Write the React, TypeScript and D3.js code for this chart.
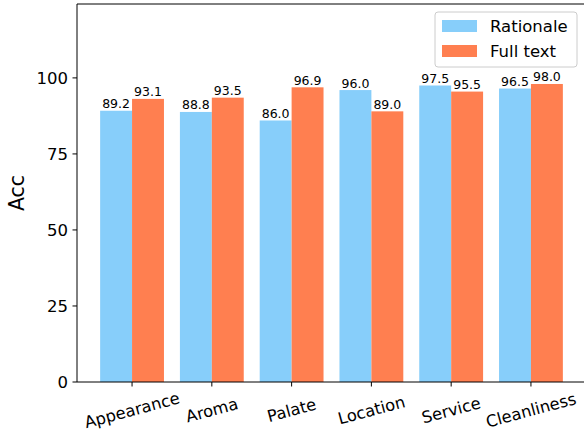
import { useRef, useEffect } from "react";
import * as d3 from "d3";

const categories = ["Appearance", "Aroma", "Palate", "Location", "Service", "Cleanliness"];
const rationale = [89.2, 88.8, 86.0, 96.0, 97.5, 96.5];
const fullText = [93.1, 93.5, 96.9, 89.0, 95.5, 98.0];
const seriesNames = ["Rationale", "Full text"];
const colors = ["#87CEFA", "#FF7F50"];
const yTicks = [0, 25, 50, 75, 100];

export default function App() {
  const svgRef = useRef<SVGSVGElement>(null);

  useEffect(() => {
    if (!svgRef.current) return;
    const width = 584;
    const height = 431;
    const margin = { top: 4, left: 77, bottom: 49 };

    const svg = d3.select(svgRef.current);
    svg.selectAll("*").remove();

    const font = "DejaVu Sans, sans-serif";

    // x in category units, matplotlib-like margins
    const x = d3.scaleLinear().domain([-0.69, 5.69]).range([margin.left, 586]);
    const y = d3.scaleLinear().domain([0, 124.3]).range([height - margin.bottom, margin.top]);
    const barW = x(0.4) - x(0);

    const g = svg.append("g");

    const series = [rationale, fullText];
    series.forEach((vals, si) => {
      const off = si === 0 ? -0.2 : 0.2;
      g.selectAll(`.bar${si}`)
        .data(vals)
        .join("rect")
        .attr("x", (_, i) => x(i + off) - barW / 2)
        .attr("y", (d) => y(d))
        .attr("width", barW)
        .attr("height", (d) => y(0) - y(d))
        .attr("fill", colors[si]);

      g.selectAll(`.lbl${si}`)
        .data(vals)
        .join("text")
        .attr("x", (_, i) => x(i + off))
        .attr("y", (d) => y(d) - 2.5)
        .attr("text-anchor", "middle")
        .attr("font-family", font)
        .attr("font-size", 12.5)
        .attr("fill", "#000")
        .text((d) => d.toFixed(1));
    });

    // spines
    const frame = svg.append("g").attr("stroke", "#000").attr("stroke-width", 1);
    frame.append("line").attr("x1", margin.left).attr("x2", margin.left).attr("y1", y(124.3)).attr("y2", y(0));
    frame.append("line").attr("x1", margin.left).attr("x2", 590).attr("y1", y(0)).attr("y2", y(0));
    frame.append("line").attr("x1", margin.left).attr("x2", 590).attr("y1", y(124.3)).attr("y2", y(124.3));

    // y axis ticks
    const yt = svg.append("g");
    yTicks.forEach((t) => {
      yt.append("line")
        .attr("x1", margin.left - 4.5)
        .attr("x2", margin.left)
        .attr("y1", y(t))
        .attr("y2", y(t))
        .attr("stroke", "#000");
      yt.append("text")
        .attr("x", margin.left - 9)
        .attr("y", y(t))
        .attr("dy", "0.36em")
        .attr("text-anchor", "end")
        .attr("font-family", font)
        .attr("font-size", 16.5)
        .text(t);
    });

    // x axis ticks
    const xt = svg.append("g");
    categories.forEach((c, i) => {
      xt.append("line")
        .attr("x1", x(i))
        .attr("x2", x(i))
        .attr("y1", y(0))
        .attr("y2", y(0) + 4.5)
        .attr("stroke", "#000");
      xt.append("text")
        .attr("transform", `translate(${x(i)},${y(0) + 28}) rotate(-15)`)
        .attr("text-anchor", "middle")
        .attr("dy", "0.36em")
        .attr("font-family", font)
        .attr("font-size", 16.3)
        .text(c);
    });

    // y label
    svg.append("text")
      .attr("transform", `translate(24,${(y(0) + y(124.3)) / 2}) rotate(-90)`)
      .attr("text-anchor", "middle")
      .attr("font-family", font)
      .attr("font-size", 20.5)
      .text("Acc");

    // legend
    const lg = svg.append("g").attr("transform", "translate(435,12)");
    lg.append("rect")
      .attr("width", 142)
      .attr("height", 55)
      .attr("rx", 3)
      .attr("fill", "#fff")
      .attr("fill-opacity", 0.8)
      .attr("stroke", "#ccc");
    seriesNames.forEach((n, i) => {
      lg.append("rect")
        .attr("x", 7)
        .attr("y", 8 + i * 25)
        .attr("width", 35)
        .attr("height", 12)
        .attr("fill", colors[i]);
      lg.append("text")
        .attr("x", 55)
        .attr("y", 14 + i * 25)
        .attr("dy", "0.36em")
        .attr("font-family", font)
        .attr("font-size", 16.5)
        .text(n);
    });
  }, []);

  return (
    <div style={{ position: "fixed", left: 0, top: 0, background: "#fff" }}>
      <svg ref={svgRef} width={584} height={431} style={{ display: "block" }} />
    </div>
  );
}
